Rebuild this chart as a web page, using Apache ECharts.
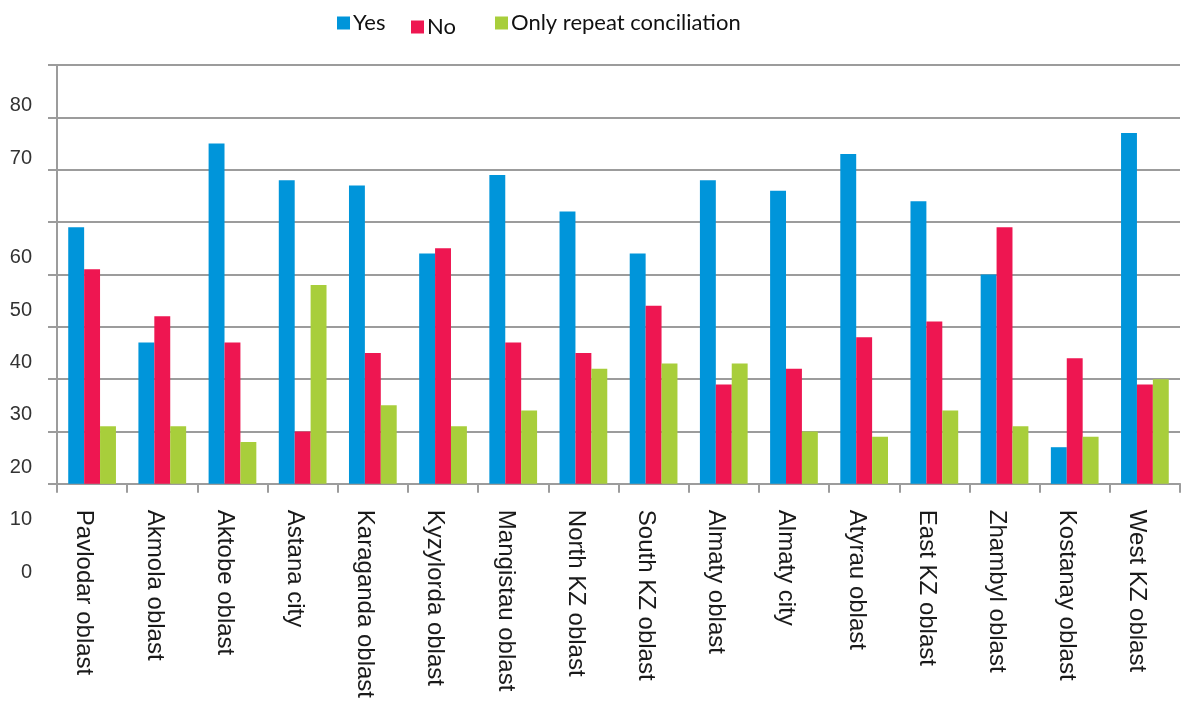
<!DOCTYPE html>
<html>
<head>
<meta charset="utf-8">
<title>Conciliation by region</title>
<script src="https://cdn.jsdelivr.net/npm/echarts@6/dist/echarts.min.js"></script>
<style>
  html, body { margin: 0; padding: 0; background: #fff; }
  #chart { width: 1187px; height: 701px; }
</style>
</head>
<body>
<div id="chart"></div>
<script>
// categories along the x axis
var regions = ['Pavlodar oblast', 'Akmola oblast', 'Aktobe oblast', 'Astana city', 'Karaganda oblast',
  'Kyzylorda oblast', 'Mangistau oblast', 'North KZ oblast', 'South KZ oblast', 'Almaty oblast',
  'Almaty city', 'Atyrau oblast', 'East KZ oblast', 'Zhambyl oblast', 'Kostanay oblast', 'West KZ oblast'];

var yesValues = [49, 27, 65, 58, 57, 44, 59, 52, 44, 58, 56, 63, 54, 40, 7, 67];
var noValues = [41, 32, 27, 10, 25, 45, 27, 25, 34, 19, 22, 28, 31, 49, 24, 19];
var repeatValues = [11, 11, 8, 38, 15, 11, 14, 22, 23, 23, 10, 9, 14, 11, 9, 20];

// the y tick labels as printed in the original (they sit off the gridlines)
var yTickText = ['0', '10', '20', '30', '40', '50', '60', '70', '80'];
var yTickPos = [0, 10, 20, 30, 40, 50, 60, 79, 89];

var chartDom = document.getElementById('chart');
var myChart = echarts.init(chartDom);
var option;

var gridColor = '#9c9c9c';

function legendAt(name, left, top) {
  return {
    data: [name],
    left: left,
    top: top,
    icon: 'rect',
    itemWidth: 13,
    itemHeight: 13,
    itemGap: 0,
    textStyle: { fontFamily: 'Lato', fontSize: 22, color: '#111', padding: [0, 0, 0, -2] }
  };
}

option = {
  animation: false,
  color: ['#0095da', '#ee1651', '#a8ce3b'],
  legend: [
    legendAt('Yes', 332, 7),
    legendAt('No', 406, 11),
    legendAt('Only repeat conciliation', 490, 7)
  ],
  grid: [
    { left: 57, right: 7, top: 65, bottom: 217 },
    { left: 57, width: 10, top: 48, bottom: 129 }
  ],
  xAxis: [
    {
      type: 'category',
      data: regions,
      gridIndex: 0,
      axisLine: { lineStyle: { color: gridColor, width: 2 } },
      axisTick: { show: true, length: 9, lineStyle: { color: gridColor, width: 2 } },
      axisLabel: {
        interval: 0,
        rotate: -90,
        margin: 26,
        verticalAlign: 'top',
        lineHeight: 16,
        fontFamily: 'Liberation Sans',
        fontSize: 24,
        color: '#1a1a1a'
      }
    },
    { type: 'value', gridIndex: 1, show: false }
  ],
  yAxis: [
    {
      type: 'value',
      gridIndex: 0,
      min: 0,
      max: 80,
      interval: 10,
      axisLine: { show: true, lineStyle: { color: gridColor, width: 2 } },
      axisTick: { show: true, length: 9, lineStyle: { color: gridColor, width: 2 } },
      axisLabel: { show: false },
      splitLine: { lineStyle: { color: gridColor, width: 2 } }
    },
    {
      type: 'value',
      gridIndex: 1,
      min: 0,
      max: 100,
      axisLine: { show: false },
      axisTick: { show: false },
      splitLine: { show: false },
      axisLabel: {
        customValues: yTickPos,
        margin: 25,
        fontFamily: 'Liberation Sans',
        fontSize: 20,
        color: '#333',
        formatter: function (v) {
          var i = yTickPos.indexOf(v);
          return i >= 0 ? yTickText[i] : '';
        }
      }
    }
  ],
  series: [
    { name: 'Yes', type: 'bar', data: yesValues, barGap: 0, barCategoryGap: '32%' },
    { name: 'No', type: 'bar', data: noValues, barGap: 0, barCategoryGap: '32%' },
    { name: 'Only repeat conciliation', type: 'bar', data: repeatValues, barGap: 0, barCategoryGap: '32%' }
  ]
};

option && myChart.setOption(option);
</script>
</body>
</html>
